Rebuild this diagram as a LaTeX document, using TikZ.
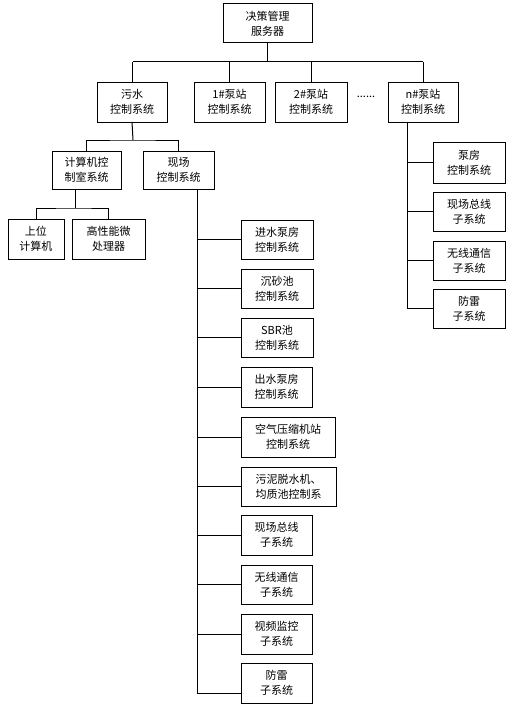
\documentclass[tikz,border=0pt]{standalone}
\usepackage{fontspec}
\newfontfamily\cjk{Noto Sans CJK SC}
\begin{document}
\begin{tikzpicture}[x=1pt,y=-1pt,
  box/.style={draw, line width=1pt, align=center, inner sep=0pt, outer sep=0pt,
    anchor=north west, font=\cjk\fontsize{11}{15}\selectfont},
  conn/.style={line width=1pt}]
\useasboundingbox[fill=white] (0,0) rectangle (521,709);
% level 0
\node[box, minimum width=89pt, minimum height=39pt] (top) at (223,4) {决策管理\\服务器};
% level 1
\node[box, minimum width=70pt, minimum height=40pt] (ws) at (97,82) {污水\\控制系统};
\node[box, minimum width=71pt, minimum height=40pt] (p1) at (194,82) {1\#泵站\\控制系统};
\node[box, minimum width=72pt, minimum height=40pt] (p2) at (275,82) {2\#泵站\\控制系统};
\node[font=\cjk\fontsize{11}{15}\selectfont] (dots) at (366,97) {......};
\node[box, minimum width=70pt, minimum height=40pt] (pn) at (388,82) {n\#泵站\\控制系统};
\coordinate (b1) at (133,62);
\draw[conn] (b1) -- (b1 -| pn.north);
\draw[conn] (top.south) -- (top.south |- b1);
\draw[conn] (ws.north) -- (ws.north |- b1);
\draw[conn] (p1.north) -- (p1.north |- b1);
\draw[conn] (p2.north) -- (p2.north |- b1);
\draw[conn] (pn.north) -- (pn.north |- b1);
% level 2 under sewage
\node[box, minimum width=69pt, minimum height=38pt] (jsj) at (52,151) {计算机控\\制室系统};
\node[box, minimum width=71pt, minimum height=38pt] (xc) at (143,151) {现场\\控制系统};
\coordinate (b2) at (133,140);
\draw[conn] (ws.south) -- (b2);
\draw[conn] (jsj.north) |- (b2) -| (xc.north);
% computer room children
\node[box, minimum width=56pt, minimum height=40pt] (sw) at (8,219) {上位\\计算机};
\node[box, minimum width=73pt, minimum height=40pt] (gx) at (72,219) {高性能微\\处理器};
\coordinate (b3) at (75,208);
\draw[conn] (b3 |- jsj.south) -- (b3);
\draw[conn] (sw.north) |- (b3) -| (gx.north);
% field control children
\node[box, minimum width=72pt, minimum height=39pt] (f1) at (241,220) {进水泵房\\控制系统};
\node[box, minimum width=72pt, minimum height=39pt] (f2) at (241,269) {沉砂池\\控制系统};
\node[box, minimum width=72pt, minimum height=39pt] (f3) at (241,318) {SBR池\\控制系统};
\node[box, minimum width=71pt, minimum height=40pt] (f4) at (241,367) {出水泵房\\控制系统};
\node[box, minimum width=94pt, minimum height=40pt] (f5) at (241,417) {空气压缩机站\\控制系统};
\node[box, minimum width=95pt, minimum height=39pt] (f6) at (241,467) {污泥脱水机、\\均质池控制系};
\node[box, minimum width=71pt, minimum height=40pt] (f7) at (241,515) {现场总线\\子系统};
\node[box, minimum width=71pt, minimum height=39pt] (f8) at (241,565) {无线通信\\子系统};
\node[box, minimum width=71pt, minimum height=40pt] (f9) at (241,614) {视频监控\\子系统};
\node[box, minimum width=71pt, minimum height=40pt] (f10) at (241,663) {防雷\\子系统};
\coordinate (t1) at (197,693);
\draw[conn] (t1 |- xc.south) -- (t1);
\foreach \n in {f1,f2,f3,f4,f5,f6,f7,f8,f9}
  \draw[conn] (t1 |- \n.west) -- (\n.west);
\draw[conn] (t1) -- (t1 -| f10.west);
% n# station children
\node[box, minimum width=72pt, minimum height=41pt] (r1) at (433,142) {泵房\\控制系统};
\node[box, minimum width=72pt, minimum height=39pt] (r2) at (433,192) {现场总线\\子系统};
\node[box, minimum width=72pt, minimum height=39pt] (r3) at (433,241) {无线通信\\子系统};
\node[box, minimum width=72pt, minimum height=39pt] (r4) at (433,289) {防雷\\子系统};
\coordinate (t2) at (407,308.5);
\draw[conn] (t2 |- pn.south) -- (t2);
\foreach \n in {r1,r2,r3}
  \draw[conn] (t2 |- \n.west) -- (\n.west);
\draw[conn] (t2) -- (r4.west);
\end{tikzpicture}
\end{document}
